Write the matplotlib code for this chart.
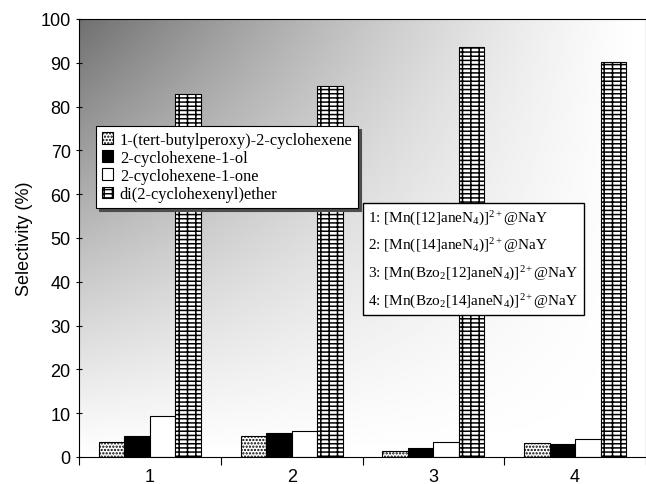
import numpy as np
import matplotlib
matplotlib.use("Agg")
import matplotlib.pyplot as plt
from matplotlib.patches import Patch
from matplotlib.lines import Line2D

plt.rcParams['font.family'] = ['Liberation Sans', 'DejaVu Sans']
plt.rcParams['mathtext.fontset'] = 'custom'
plt.rcParams['mathtext.rm'] = 'Liberation Serif'
plt.rcParams['mathtext.it'] = 'Liberation Serif:italic'
plt.rcParams['hatch.linewidth'] = 1.1

# data
catalysts = ['1', '2', '3', '4']
products = ['1-(tert-butylperoxy)-2-cyclohexene', '2-cyclohexene-1-ol',
            '2-cyclohexene-1-one', 'di(2-cyclohexenyl)ether']
peroxy = [3.5, 4.9, 1.3, 3.3]
enol = [4.9, 5.5, 2.1, 3.0]
enone = [9.3, 5.9, 3.5, 4.0]
ether = [82.9, 84.8, 93.7, 90.2]
catalyst_names = [
    r'1: [Mn([12]aneN$_4$)]$^{2+}$@NaY',
    r'2: [Mn([14]aneN$_4$)]$^{2+}$@NaY',
    r'3: [Mn(Bzo$_2$[12]aneN$_4$)]$^{2+}$@NaY',
    r'4: [Mn(Bzo$_2$[14]aneN$_4$)]$^{2+}$@NaY',
]

series = [peroxy, enol, enone, ether]
faces = ['white', 'black', 'white', 'white']
hatches = ['.....', None, None, '----||']

fig = plt.figure(figsize=(6.46, 4.85), dpi=100)
ax = fig.add_axes([79 / 646, 1 - 458 / 485, 567 / 646, 438 / 485])

# grey gradient background, dark in the top left corner
u = np.linspace(0, 1, 300)
v = np.linspace(1, 0, 300)
U, V = np.meshgrid(u, v)
bg = 1 - 0.56 * (1 - U) ** 1.3 * V ** 1.1
ax.imshow(bg, cmap='gray', vmin=0, vmax=1, extent=[0.5, 4.5, 0, 100],
          aspect='auto', zorder=0, interpolation='bilinear')

x = np.arange(1, len(catalysts) + 1)
w = 0.18
for i, vals in enumerate(series):
    ax.bar(x + (i - 1.5) * w, vals, w, color=faces[i], edgecolor='black',
           hatch=hatches[i], linewidth=0.8, zorder=2, label=products[i])

ax.set_xlim(0.5, 4.5)
ax.set_ylim(0, 100)
ax.set_yticks(np.arange(0, 101, 10))
ax.set_xticks([0.5, 1.5, 2.5, 3.5, 4.5])
ax.set_xticklabels([])
ax.set_xticks(x, minor=True)
ax.set_xticklabels(catalysts, minor=True)
ax.tick_params(axis='x', which='major', length=6, direction='out')
ax.tick_params(axis='x', which='minor', length=0, pad=8, labelsize=13)
ax.tick_params(axis='y', length=5, direction='inout', labelsize=13)
ax.set_ylabel('Selectivity (%)', fontsize=13, labelpad=5)
for s in ax.spines.values():
    s.set_linewidth(0.8)

handles = [Patch(facecolor=faces[i], edgecolor='black', hatch=hatches[i],
                 linewidth=0.8) for i in range(4)]
leg1 = ax.legend(handles, products, loc='upper left',
                 bbox_to_anchor=(0.03, 0.756), borderaxespad=0,
                 prop={'family': 'Liberation Serif', 'size': 11.8},
                 handlelength=0.7, handleheight=0.7, handletextpad=0.4,
                 labelspacing=0.13, borderpad=0.35, frameon=True, fancybox=False,
                 shadow={'color': '0.3', 'alpha': 1}, framealpha=1,
                 edgecolor='black')
leg1.get_frame().set_linewidth(0.8)
ax.add_artist(leg1)

blank = [Line2D([], [], linestyle='none') for _ in catalyst_names]
leg2 = ax.legend(blank, catalyst_names, loc='upper left',
                 bbox_to_anchor=(0.501, 0.58), borderaxespad=0,
                 prop={'family': 'Liberation Serif', 'size': 11},
                 handlelength=0, handletextpad=0, labelspacing=0.62,
                 borderpad=0.35, frameon=True, fancybox=False, framealpha=1,
                 edgecolor='black')
leg2.get_frame().set_linewidth(1.0)

fig.savefig('out.png', dpi=100)
